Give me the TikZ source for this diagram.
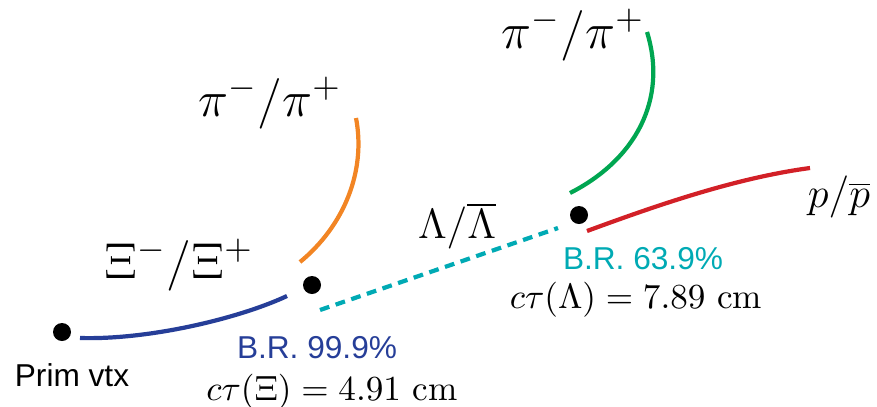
\documentclass[tikz,border=0pt]{standalone}
\usepackage{fontspec}
\setsansfont{Liberation Sans}
\definecolor{xiblue}{RGB}{38,62,152}
\definecolor{pionorange}{RGB}{242,133,36}
\definecolor{piongreen}{RGB}{0,166,81}
\definecolor{protonred}{RGB}{210,32,39}
\definecolor{lamteal}{RGB}{0,170,180}
\tikzset{
  vtx/.style={circle, fill=black, inner sep=0pt, minimum size=1.8mm},
  track/.style={line width=1.2pt},
  lbl/.style={font=\large},
  biglbl/.style={font=\Large},
  brlbl/.style={font=\sffamily\small},
}
\begin{document}
\begin{tikzpicture}[x=0.1mm, y=-0.1mm]
    \useasboundingbox (0,0) rectangle (877,406);

    % Vertekser
    \node[vtx] (prim) at (62,332) {};
    \node[vtx] (xi) at (312,285) {};
    \node[vtx] (lam) at (579,215) {};
    \node[brlbl] (primlbl) at (72,375) {Prim vtx};

    % Spor
    \coordinate (xiA) at (80,338);
    \coordinate (xiB) at (287,296);
    \draw[track, xiblue] (xiA) .. controls (150,340) and (240,318) .. (xiB);

    \coordinate (piA) at (300,262);
    \coordinate (piB) at (356,118);
    \draw[track, pionorange] (piA) .. controls (345,225) and (366,170) .. (piB);

    \coordinate (lamA) at (320,310);
    \coordinate (lamB) at (558,228);
    \draw[track, lamteal, dash pattern=on 2.8pt off 1.9pt] (lamA) -- (lamB);

    \coordinate (pi2A) at (570,193);
    \coordinate (pi2B) at (647,32);
    \draw[track, piongreen] (pi2A) .. controls (635,160) and (668,100) .. (pi2B);

    \coordinate (pA) at (587,231);
    \coordinate (pB) at (810,168);
    \draw[track, protonred] (pA) .. controls (655,206) and (735,178) .. (pB);

    % Etiketter
    \node[biglbl] (xilbl) at (179,265) {$\Xi^-/\Xi^+$};
    \node[biglbl] (pilbl) at (270,103) {$\pi^-/\pi^+$};
    \node[lbl] (lamlbl) at (457,226) {$\Lambda/\overline{\Lambda}$};
    \node[biglbl] (pi2lbl) at (573,35) {$\pi^-/\pi^+$};
    \node[lbl] (plbl) at (839,197) {$p/\overline{p}$};

    \node[brlbl, xiblue] (xibr) at (317,348) {B.R. 99.9\%};
    \node[anchor=base] (xictau) at (332,400) {$c\tau(\Xi) = 4.91$ cm};
    \node[brlbl, lamteal] (lambr) at (643,259) {B.R. 63.9\%};
    \node (lamctau) at (636,300) {$c\tau(\Lambda) = 7.89$ cm};
\end{tikzpicture}
\end{document}
